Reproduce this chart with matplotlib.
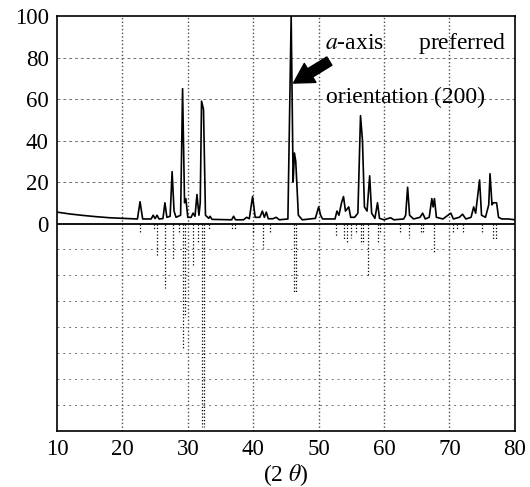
import numpy as np
import matplotlib.pyplot as plt

plt.rcParams['font.family'] = ['Liberation Serif', 'DejaVu Serif']
plt.rcParams['mathtext.fontset'] = 'stix'

two_theta = [10.0, 12.0, 14.0, 16.0, 18.0, 20.0, 22.3, 22.7, 23.1, 24.4, 24.7, 25.0,
             25.3, 25.6, 26.2, 26.5, 26.8, 27.3, 27.6, 27.9, 28.2, 28.9, 29.2, 29.5,
             29.7, 30.0, 30.5, 30.8, 31.1, 31.4, 31.7, 31.9, 32.1, 32.4, 32.7, 33.2,
             33.4, 33.7, 36.7, 37.0, 37.3, 38.5, 39.0, 39.4, 39.9, 40.3, 41.0, 41.4,
             41.7, 42.0, 42.3, 43.0, 43.5, 44.0, 45.3, 45.8, 46.1, 46.3, 46.5, 46.9,
             47.5, 49.5, 50.0, 50.3, 50.6, 52.5, 52.8, 53.1, 53.5, 53.8, 54.1, 54.6,
             54.9, 55.5, 56.0, 56.4, 56.7, 57.0, 57.4, 57.8, 58.1, 58.6, 59.0, 59.3,
             60.0, 61.0, 61.5, 63.0, 63.3, 63.6, 63.9, 64.5, 65.5, 65.9, 66.3, 66.9,
             67.3, 67.5, 67.7, 68.0, 69.0, 70.2, 70.6, 71.5, 72.0, 72.5, 73.3, 73.7,
             74.0, 74.6, 74.9, 75.5, 76.0, 76.2, 76.5, 76.7, 77.2, 77.5, 78.0, 79.0,
             80.0]
intensity = [5.5, 4.6, 3.9, 3.3, 2.8, 2.5, 2.2, 10.5, 2.2, 2.2, 4.0, 2.4,
             4.0, 2.2, 2.4, 10.0, 3.0, 3.5, 25.0, 6.0, 3.0, 4.0, 65.0, 10.0,
             12.0, 3.0, 3.0, 5.0, 3.5, 14.0, 4.0, 10.0, 59.0, 55.0, 4.0, 2.5,
             3.5, 2.0, 1.8, 3.5, 1.8, 1.8, 3.0, 2.3, 13.0, 3.0, 3.0, 6.0,
             3.0, 5.5, 2.3, 2.3, 3.0, 1.8, 2.2, 100.0, 20.0, 34.0, 30.0, 4.0,
             1.8, 2.5, 8.0, 4.0, 2.2, 2.2, 6.0, 4.0, 10.0, 13.0, 6.0, 8.0,
             3.0, 3.0, 5.0, 52.0, 40.0, 8.0, 6.0, 23.0, 5.0, 2.5, 10.0, 2.5,
             1.8, 2.8, 1.8, 2.2, 4.0, 17.5, 4.0, 2.2, 3.0, 5.0, 2.2, 3.0,
             12.0, 8.0, 12.0, 3.0, 2.2, 5.0, 2.2, 3.0, 4.5, 2.2, 3.0, 8.0,
             5.0, 21.0, 4.0, 3.0, 9.0, 24.0, 9.0, 10.0, 10.0, 3.0, 2.2, 2.2,
             1.8]

# reference card lines (drawn downward)
ref_pos = [22.7, 24.8, 25.3, 26.5, 27.8, 28.7, 29.2, 29.6, 30.8, 31.5, 32.2, 32.4,
           33.3, 36.8, 37.2, 39.9, 41.5, 42.6, 46.3, 46.6, 52.6, 53.8, 54.3, 54.9,
           55.7, 56.4, 56.8, 57.6, 59.0, 59.4, 62.5, 63.8, 65.6, 66.0, 67.6, 70.5,
           71.2, 72.1, 75.0, 76.6, 77.1]
ref_int = [4, 3, 16, 31, 17, 5, 61, 45, 21, 10, 98, 98,
           3, 3, 3, 5, 12, 4, 33, 33, 6, 8, 9, 7,
           5, 10, 10, 26, 10, 5, 4, 7, 4, 4, 14, 4,
           3, 4, 5, 8, 8]

fig = plt.figure(figsize=(5.30, 4.87), dpi=100)
ax = fig.add_axes([0.1075, 0.115, 0.864, 0.852])

# grid
for gx in range(20, 80, 10):
    ax.axvline(gx, color='0.3', ls=':', lw=1.0, zorder=0)
for gy in [20, 40, 60, 80]:
    ax.axhline(gy, color='0.45', ls=(0, (3, 3)), lw=0.7, zorder=0)
for gy in np.arange(-12.5, -100, -12.5):
    ax.axhline(gy, color='0.45', ls=(0, (2, 4)), lw=0.7, zorder=0)

ax.axhline(0, color='black', lw=1.3, zorder=2)
ax.plot(two_theta, intensity, color='black', lw=1.2, zorder=3)
ax.vlines(ref_pos, 0, -np.array(ref_int), colors='black', linestyles=':', lw=0.9, zorder=2)

ax.annotate('', xy=(45.8, 67), xytext=(52.0, 79),
            arrowprops=dict(arrowstyle='simple,head_width=1.6,head_length=1.4,tail_width=0.7',
                            color='black'))
ax.text(51.0, 87, r'$a$-axis      preferred', fontsize=17, va='center', ha='left')
ax.text(51.2, 61, 'orientation (200)', fontsize=17, va='center', ha='left')

ax.set_xlim(10, 80)
ax.set_ylim(-100, 100)
ax.set_xticks(range(10, 90, 10))
ax.set_yticks([0, 20, 40, 60, 80, 100])
ax.tick_params(length=0, labelsize=16.5, pad=6)
for s in ax.spines.values():
    s.set_linewidth(1.2)
ax.set_xlabel(r'(2 $\theta$)', fontsize=17, labelpad=1)

fig.savefig('out.png', dpi=100)
